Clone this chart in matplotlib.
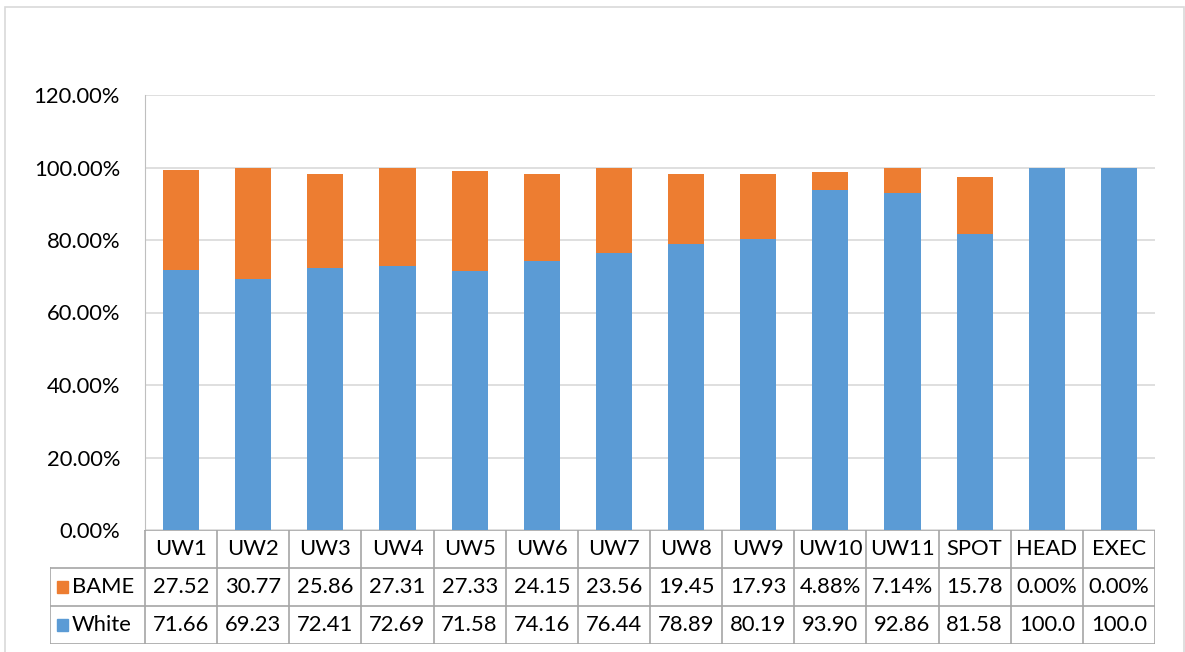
import matplotlib.pyplot as plt
from matplotlib.patches import Rectangle

plt.rcParams['font.family'] = ['Lato', 'DejaVu Sans']

# data (percent)
groups = ['UW1', 'UW2', 'UW3', 'UW4', 'UW5', 'UW6', 'UW7', 'UW8', 'UW9', 'UW10', 'UW11', 'SPOT', 'HEAD', 'EXEC']
bame = [27.52, 30.77, 25.86, 27.31, 27.33, 24.15, 23.56, 19.45, 17.93, 4.88, 7.14, 15.78, 0.00, 0.00]
white = [71.66, 69.23, 72.41, 72.69, 71.58, 74.16, 76.44, 78.89, 80.19, 93.90, 92.86, 81.58, 100.00, 100.00]
yticks = [0, 20, 40, 60, 80, 100, 120]

blue = '#5B9BD5'
orange = '#ED7D31'
W, H = 1185, 652

fig = plt.figure(figsize=(W / 100, H / 100), dpi=100)
# outer chart border
fig.patches.append(Rectangle((5 / W, -0.01), 1179 / W, 1 - 7 / H + 0.01, transform=fig.transFigure,
                             fill=False, edgecolor='#d9d9d9', linewidth=1.2))

# plot area in pixel units
left, right, top, bottom = 145, 1155, 95, 530
ax = fig.add_axes([left / W, (H - bottom) / H, (right - left) / W, (bottom - top) / H])
n = len(groups)
x = list(range(n))
ax.bar(x, white, width=0.5, color=blue, zorder=3)
ax.bar(x, bame, width=0.5, bottom=white, color=orange, zorder=3)
ax.set_xlim(-0.5, n - 0.5)
ax.set_ylim(0, 120)
ax.set_yticks(yticks)
ax.set_yticklabels([f'{v:.2f}%' for v in yticks], fontsize=15.8)
ax.tick_params(axis='y', length=0, pad=18)
ax.set_xticks([])
ax.grid(axis='y', color='#d9d9d9', linewidth=1.2, zorder=0)
for s in ['top', 'right', 'bottom']:
    ax.spines[s].set_visible(False)
ax.spines['left'].set_color('#bfbfbf')

# data table underneath
col_w = (right - left) / n
tleft, tbot = 50, 644
tax = fig.add_axes([tleft / W, (H - tbot) / H, (right - tleft) / W, (tbot - bottom) / H])
x0 = -0.5 - (left - tleft) / col_w
tax.set_xlim(x0, n - 0.5)
tax.set_ylim(0, 3)
tax.axis('off')
lc = '#a6a6a6'
lw = 1.2
# horizontal lines
tax.plot([-0.5, n - 0.5], [3, 3], color=lc, lw=lw)
for yy in [2, 1, 0]:
    tax.plot([x0, n - 0.5], [yy, yy], color=lc, lw=lw)
# vertical lines
tax.plot([x0, x0], [0, 2], color=lc, lw=lw)
for i in range(n + 1):
    tax.plot([i - 0.5, i - 0.5], [0, 3], color=lc, lw=lw)

fs = 15.8
for i, g in enumerate(groups):
    tax.text(i, 2.5, g, ha='center', va='center', fontsize=fs)
    tax.text(i, 1.5, f'{bame[i]:.2f}%'[:5], ha='center', va='center', fontsize=fs)
    tax.text(i, 0.5, f'{white[i]:.2f}%'[:5], ha='center', va='center', fontsize=fs)

sq = 11 / col_w
for yy, name, c in [(1.5, 'BAME', orange), (0.5, 'White', blue)]:
    tax.add_patch(Rectangle((x0 + 7 / col_w, yy - 0.145), sq, 0.29, color=c))
    tax.text(x0 + 22 / col_w, yy, name, ha='left', va='center', fontsize=fs)

fig.savefig('out.png', dpi=100)
